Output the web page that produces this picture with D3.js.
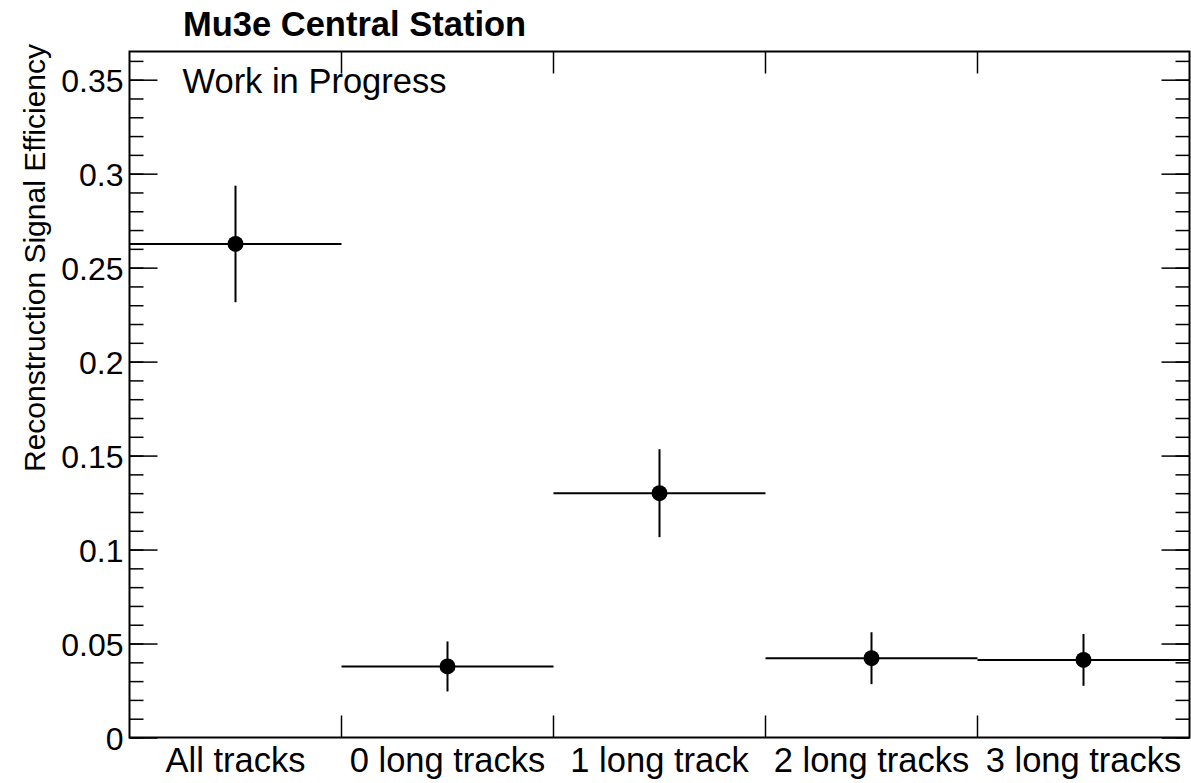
<!DOCTYPE html>
<html>
<head>
<meta charset="utf-8">
<script src="https://cdn.jsdelivr.net/npm/d3@7"></script>
<style>
  body { margin: 0; background: #fff; }
  text { font-family: "Liberation Sans", Arial, Helvetica, sans-serif; fill: #000; }
  .axis path { display: none; }
  .axis line { stroke: #000; stroke-width: 1.5; }
</style>
</head>
<body>
<div id="chart"></div>
<script>
// values
const categories = ["All tracks", "0 long tracks", "1 long track", "2 long tracks", "3 long tracks"];
const efficiency = [0.2626, 0.0378, 0.1300, 0.0422, 0.0413];
const efficiencyErr = [0.0310, 0.0133, 0.0234, 0.0138, 0.0138];
const yTicks = [0, 0.05, 0.1, 0.15, 0.2, 0.25, 0.3, 0.35];
const yMinorTicks = d3.range(0, 0.3601, 0.01);
const yMax = 0.365;

const data = categories.map((c, i) => ({category: c, value: efficiency[i], err: efficiencyErr[i]}));

const W = 1191, H = 783;
const margin = {top: 51.5, right: 1.5, bottom: 45.5, left: 129.5};
const width = W - margin.left - margin.right;
const height = H - margin.top - margin.bottom;

const svg = d3.select("#chart").append("svg")
    .attr("width", W)
    .attr("height", H);

const g = svg.append("g")
    .attr("transform", `translate(${margin.left},${margin.top})`);

const xScale = d3.scaleBand()
    .domain(categories)
    .range([0, width])
    .padding(0);

const yScale = d3.scaleLinear()
    .domain([0, yMax])
    .range([height, 0]);

// y axis, ticks pointing inward (ROOT style)
g.append("g")
    .attr("class", "axis y-axis")
    .call(d3.axisLeft(yScale).tickValues(yTicks).tickSizeInner(-28).tickSizeOuter(0)
        .tickPadding(6).tickFormat(d3.format("~g")))
    .selectAll("text")
    .attr("font-size", 32)
    .attr("dy", "0.36em");

g.append("g")
    .attr("class", "axis")
    .call(d3.axisLeft(yScale).tickValues(yMinorTicks).tickSize(-14).tickFormat(""));

// mirrored ticks on the right side
g.append("g")
    .attr("class", "axis")
    .attr("transform", `translate(${width},0)`)
    .call(d3.axisRight(yScale).tickValues(yTicks).tickSize(-28).tickFormat(""));
g.append("g")
    .attr("class", "axis")
    .attr("transform", `translate(${width},0)`)
    .call(d3.axisRight(yScale).tickValues(yMinorTicks).tickSize(-14).tickFormat(""));

// x axis labels at bin centres
g.append("g")
    .attr("class", "axis x-axis")
    .attr("transform", `translate(0,${height})`)
    .call(d3.axisBottom(xScale).tickSize(0).tickPadding(8))
    .selectAll("text")
    .attr("font-size", 34.5)
    .attr("dy", "0.76em");

// bin edge ticks top and bottom
const edges = categories.slice(1).map(c => xScale(c));
g.append("g").selectAll("line.bot")
    .data(edges).join("line")
    .attr("x1", d => d).attr("x2", d => d)
    .attr("y1", height).attr("y2", height - 22)
    .attr("stroke", "#000").attr("stroke-width", 1.5);
g.append("g").selectAll("line.top")
    .data(edges).join("line")
    .attr("x1", d => d).attr("x2", d => d)
    .attr("y1", 0).attr("y2", 22)
    .attr("stroke", "#000").attr("stroke-width", 1.5);

// frame
g.append("rect")
    .attr("x", 0).attr("y", 0)
    .attr("width", width).attr("height", height)
    .attr("fill", "none")
    .attr("stroke", "#000")
    .attr("stroke-width", 2);

// data: horizontal bin-width bars, vertical error bars, markers
const pts = g.append("g");
pts.selectAll("line.hbar")
    .data(data).join("line")
    .attr("class", "hbar")
    .attr("x1", d => xScale(d.category))
    .attr("x2", d => xScale(d.category) + xScale.bandwidth())
    .attr("y1", d => yScale(d.value))
    .attr("y2", d => yScale(d.value))
    .attr("stroke", "#000").attr("stroke-width", 2);

pts.selectAll("line.vbar")
    .data(data).join("line")
    .attr("class", "vbar")
    .attr("x1", d => xScale(d.category) + xScale.bandwidth() / 2)
    .attr("x2", d => xScale(d.category) + xScale.bandwidth() / 2)
    .attr("y1", d => yScale(d.value + d.err))
    .attr("y2", d => yScale(d.value - d.err))
    .attr("stroke", "#000").attr("stroke-width", 2);

pts.selectAll("circle")
    .data(data).join("circle")
    .attr("cx", d => xScale(d.category) + xScale.bandwidth() / 2)
    .attr("cy", d => yScale(d.value))
    .attr("r", 8)
    .attr("fill", "#000");

// texts
g.append("text")
    .attr("x", 53)
    .attr("y", 41)
    .attr("font-size", 34.5)
    .text("Work in Progress");

svg.append("text")
    .attr("x", 183)
    .attr("y", 36)
    .attr("font-size", 34.5)
    .attr("font-weight", "bold")
    .text("Mu3e Central Station");

svg.append("text")
    .attr("transform", "rotate(-90)")
    .attr("x", -44)
    .attr("y", 45)
    .attr("text-anchor", "end")
    .attr("font-size", 30)
    .text("Reconstruction Signal Efficiency");
</script>
</body>
</html>
